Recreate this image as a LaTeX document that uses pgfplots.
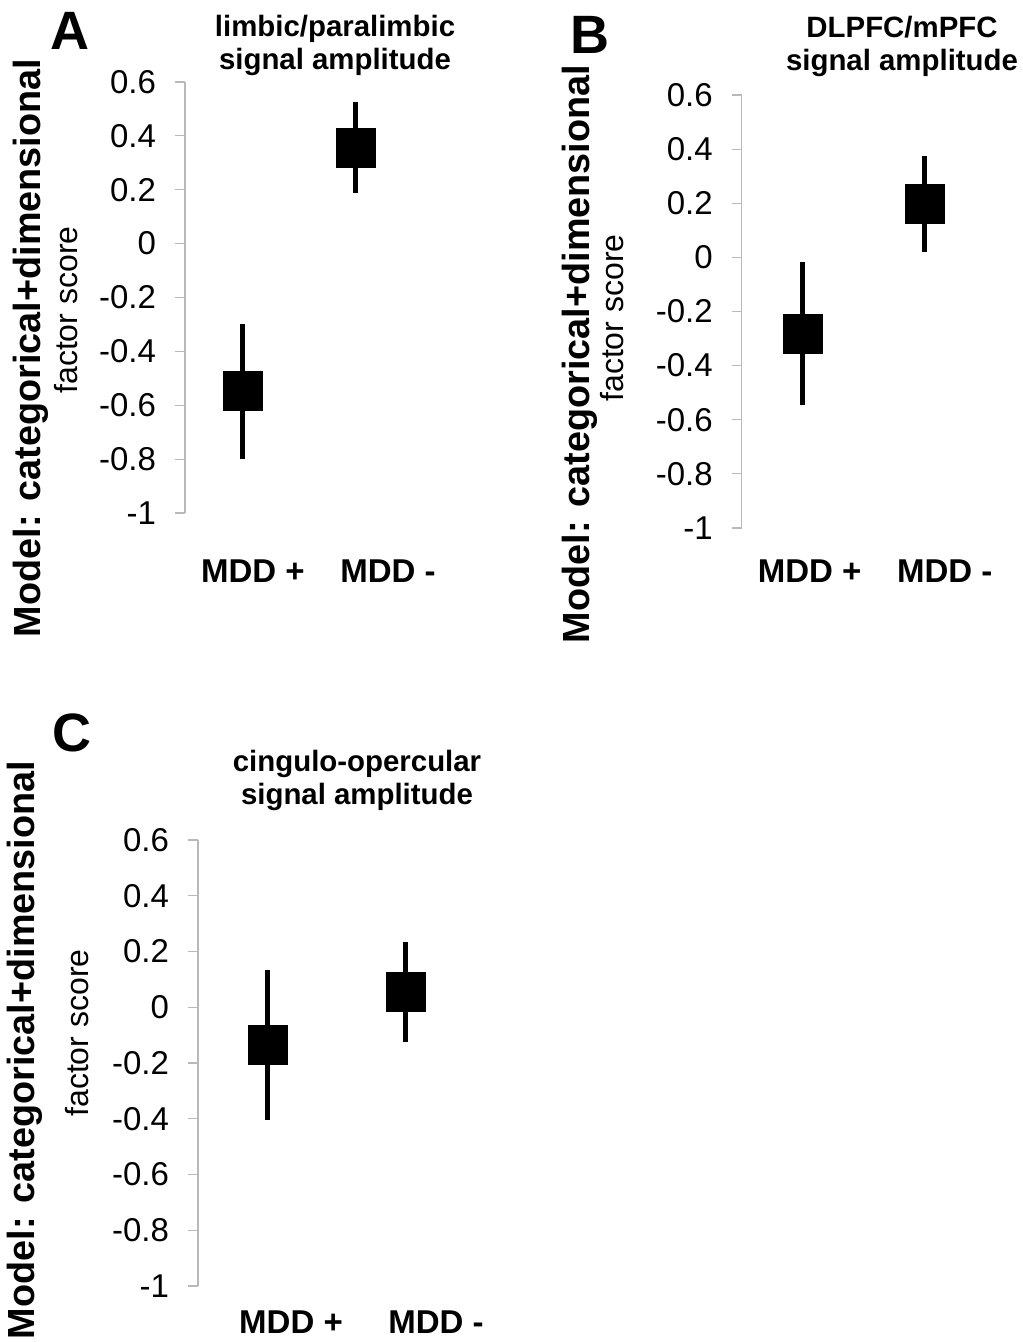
\documentclass[border=0pt]{standalone}
\usepackage{fontspec}
\setmainfont{Liberation Sans}
\usepackage{pgfplots}
\pgfplotsset{compat=1.18}

% one panel: gray left axis, no x axis line, bold category names
\pgfplotsset{
  panel/.style={
    scale only axis, clip=false,
    anchor=south west,
    axis lines=left,
    axis line style={-, draw=gray!55, line width=0.6pt},
    x axis line style={draw=none},
    ymin=-1, ymax=0.6, xmax=2.5,
    ytick={-1,-0.8,-0.6,-0.4,-0.2,0,0.2,0.4,0.6},
    yticklabels={-1,-0.8,-0.6,-0.4,-0.2,0,0.2,0.4,0.6},
    tick align=outside, major tick length=5pt,
    y tick style={draw=gray!55, line width=0.6pt},
    x tick style={draw=none},
    yticklabel style={font=\fontsize{16.5}{18}\selectfont, xshift=-6pt},
    xticklabels={MDD +, MDD -},
    xticklabel style={font=\fontsize{16.5}{18}\selectfont\bfseries,
      anchor=base, inner sep=0pt},
  },
  ebar/.style={black, only marks, mark=square*, mark size=9.75pt,
    mark options={draw=none, fill=black},
    error bars/.cd, y dir=both, y explicit, error mark=none,
    error bar style={line width=2.5pt, black}},
}

\newcommand{\ttl}{\fontsize{14.7}{16.5}\selectfont\bfseries}
\newcommand{\ylab}{\fontsize{18.9}{20}\selectfont\bfseries}
\newcommand{\ysub}{\fontsize{16}{18}\selectfont}
\newcommand{\letter}{\fontsize{27}{30}\selectfont\bfseries}

\begin{document}
\begin{tikzpicture}
\useasboundingbox (0,0) rectangle (511pt,-671pt);

% ---- A
\begin{axis}[panel, at={(92.5pt,-256.5pt)}, width=113.75pt, height=215.5pt,
  xmin=0.487, xtick={1.088,2.283}, xticklabel style={yshift=-29.5pt}]
\addplot[ebar] coordinates {(1,-0.548) +- (0,0.25) (2,0.357) +- (0,0.17)};
\end{axis}
\node[font=\letter] at (35pt,-15.5pt) {A};
\node[font=\ttl, align=center] at (167.5pt,-22.75pt) {limbic/paralimbic\\signal amplitude};
\node[font=\ylab, rotate=90] at (15.5pt,-174pt) {Model: categorical+dimensional};
\node[font=\ysub, rotate=90] at (33pt,-155pt) {factor score};

% ---- B
\begin{axis}[panel, at={(370.85pt,-264pt)}, width=122pt, height=216.5pt,
  xmin=0.5, xtick={1.057,2.164}, xticklabel style={yshift=-22pt}]
\addplot[ebar] coordinates {(1,-0.281) +- (0,0.264) (2,0.197) +- (0,0.176)};
\end{axis}
\node[font=\letter] at (295pt,-17.5pt) {B};
\node[font=\ttl, align=center] at (451pt,-23.25pt) {DLPFC/mPFC\\signal amplitude};
\node[font=\ylab, rotate=90] at (290pt,-177pt) {Model: categorical+dimensional};
\node[font=\ysub, rotate=90] at (306pt,-159pt) {factor score};

% ---- C
\begin{axis}[panel, at={(99pt,-643pt)}, width=138.5pt, height=223pt,
  xmin=0.493, xtick={1.167,2.217}, xticklabel style={yshift=-18.5pt}]
\addplot[ebar] coordinates {(1,-0.136) +- (0,0.268) (2,0.055) +- (0,0.18)};
\end{axis}
\node[font=\letter] at (36pt,-366.5pt) {C};
\node[font=\ttl, align=center] at (178.5pt,-390.25pt) {cingulo-opercular\\signal amplitude};
\node[font=\ylab, rotate=90] at (12.5pt,-525pt) {Model: categorical+dimensional};
\node[font=\ysub, rotate=90] at (38.5pt,-516.5pt) {factor score};
\end{tikzpicture}
\end{document}
